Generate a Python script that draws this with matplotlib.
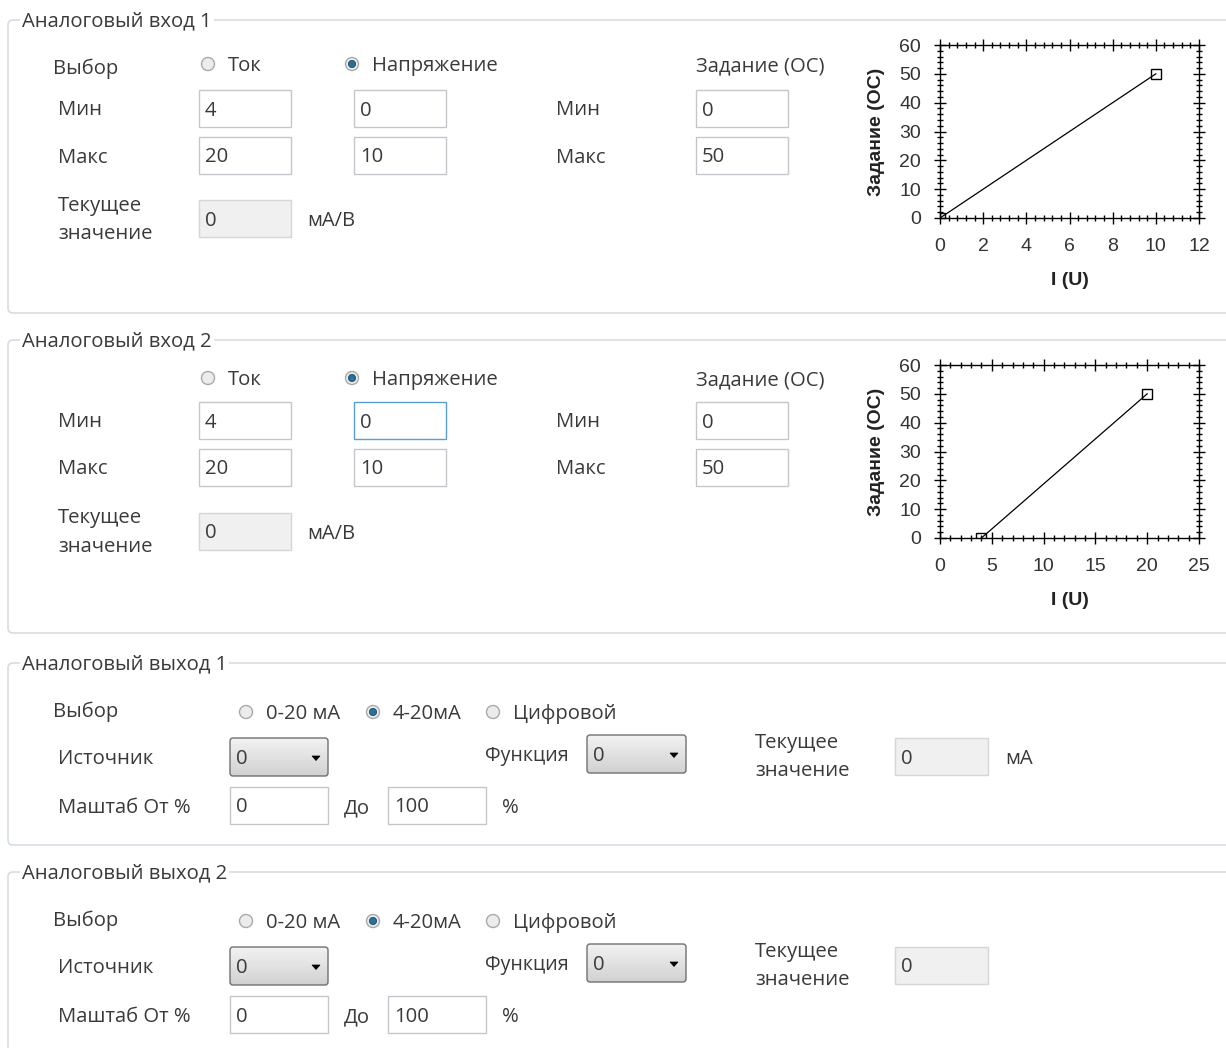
import numpy as np
import matplotlib.pyplot as plt
from matplotlib.patches import FancyBboxPatch, Rectangle, Circle, Polygon
from matplotlib.ticker import MultipleLocator

#  CONFIG
W, H = 1226, 1048
UI_FONT    = ['Open Sans', 'DejaVu Sans']
PLOT_FONT  = ['Liberation Sans', 'DejaVu Sans']
TXT        = '#3a3a3a'
BORDER     = '#d5dde3'
BOX_EDGE   = '#c3c7cc'
UI_SIZE    = 14.6

# DATA
in1_current  = [4, 20]        # Ток  (мин, макс)
in1_voltage  = [0, 10]        # Напряжение (мин, макс)
in1_setpoint = [0, 50]        # Задание (ОС)
in2_current  = [4, 20]
in2_voltage  = [0, 10]
in2_setpoint = [0, 50]
in1_x = [0, 10]
in1_y = [0, 50]
in2_x = [4, 20]
in2_y = [0, 50]
out_scale = [0, 100]          # Маштаб От / До

fig = plt.figure(figsize=(W / 100, H / 100), dpi=100)
bg = fig.add_axes([0, 0, 1, 1])
bg.set_xlim(0, W)
bg.set_ylim(H, 0)
bg.axis('off')


#  HELPERS
def label(x, y, s, size=UI_SIZE, **kw):
    # +2 px: matplotlib centres on the full glyph box, the UI on the x-height
    bg.text(x, y + 2, s, fontsize=size, color=TXT, family=UI_FONT,
            va='center', ha='left', **kw)

def group(y_top, y_bot, title):
    bg.add_patch(FancyBboxPatch((8, y_top), 1300, y_bot - y_top,
                                boxstyle='round,pad=0,rounding_size=5',
                                fc='none', ec=BORDER, lw=1.2))
    bg.text(22, y_top + 1, title, fontsize=UI_SIZE, color=TXT, family=UI_FONT,
            va='center', ha='left',
            bbox=dict(fc='white', ec='none', pad=1.5))

def textbox(x0, y0, x1, y1, s, fill='white', edge=BOX_EDGE):
    bg.add_patch(Rectangle((x0, y0), x1 - x0, y1 - y0, fc=fill, ec=edge, lw=1.0))
    label(x0 + 6, (y0 + y1) / 2, str(s))

def radio(x, y, s, selected=False):
    bg.add_patch(Circle((x, y), 6.5, fc='#ececec', ec='#a9a9a9', lw=1.0))
    if selected:
        bg.add_patch(Circle((x, y), 3.6, fc='#2b6f98', ec='#1c4d6e', lw=0.6))
    label(x + 20, y, s)

def combo(x0, y0, x1, y1, s):
    shade = np.linspace(0.95, 0.82, 50)
    grad = np.repeat(shade[:, None, None], 3, axis=2)
    bg.imshow(grad, extent=(x0, x1, y1, y0), aspect='auto', zorder=1)
    bg.add_patch(FancyBboxPatch((x0, y0), x1 - x0, y1 - y0,
                                boxstyle='round,pad=0,rounding_size=3',
                                fc='none', ec='#707070', lw=1.0, zorder=2))
    label(x0 + 6, (y0 + y1) / 2, str(s), zorder=3)
    cx, cy = x1 - 12, (y0 + y1) / 2 + 1
    bg.add_patch(Polygon([(cx - 4, cy - 2), (cx + 4, cy - 2), (cx, cy + 2.5)],
                         closed=True, fc='black', ec='black', lw=0.5, zorder=3))

def chart(top, bot, xs, ys, xmax, xmaj, xmin_step):
    ax = fig.add_axes([940 / W, 1 - bot / H, 259 / W, (bot - top) / H])
    ax.plot(xs, ys, color='black', lw=0.9, marker='s', ms=7.5,
            mfc='none', mec='black', mew=1.0)
    ax.set_xlim(0, xmax)
    ax.set_ylim(0, 60)
    ax.xaxis.set_major_locator(MultipleLocator(xmaj))
    ax.xaxis.set_minor_locator(MultipleLocator(xmin_step))
    ax.yaxis.set_major_locator(MultipleLocator(10))
    ax.yaxis.set_minor_locator(MultipleLocator(2))
    ax.tick_params(which='both', direction='inout', top=True, right=True,
                   labelsize=14, labelcolor='#333333')
    ax.tick_params(axis='x', which='major', pad=10)
    ax.tick_params(axis='y', which='major', pad=9)
    ax.tick_params(which='major', length=9, width=1.0)
    ax.tick_params(which='minor', length=5, width=1.0)
    for lab in ax.get_xticklabels() + ax.get_yticklabels():
        lab.set_family(PLOT_FONT)
    for sp in ax.spines.values():
        sp.set_linewidth(1.0)
    ax.set_xlabel('I (U)', fontsize=14, fontweight='bold', family=PLOT_FONT,
                  color='#222222', labelpad=12)
    ax.set_ylabel('Задание (ОС)', fontsize=14, fontweight='bold',
                  family=PLOT_FONT, color='#222222', labelpad=10)
    return ax


#  GROUP 1 - Аналоговый вход 1
group(20, 313, 'Аналоговый вход 1')
label(53, 67, 'Выбор')
radio(208, 64, 'Ток')
radio(352, 64, 'Напряжение', selected=True)
label(696, 64, 'Задание (ОС)')
label(58, 108, 'Мин')
label(58, 156, 'Макс')
textbox(199, 90, 291, 127, in1_current[0])
textbox(354, 90, 446, 127, in1_voltage[0])
label(556, 108, 'Мин')
textbox(696, 90, 788, 127, in1_setpoint[0])
textbox(199, 137, 291, 174, in1_current[1])
textbox(354, 137, 446, 174, in1_voltage[1])
label(556, 156, 'Макс')
textbox(696, 137, 788, 174, in1_setpoint[1])
label(58, 204, 'Текущее')
label(58, 232, 'значение')
textbox(199, 200, 291, 237, 0, fill='#f0f0f0', edge='#d6d6d6')
label(307, 219, 'мА/В')
chart(45, 218, in1_x, in1_y, 12, 2, 0.4)

#  GROUP 2 - Аналоговый вход 2
group(340, 633, 'Аналоговый вход 2')
radio(208, 378, 'Ток')
radio(352, 378, 'Напряжение', selected=True)
label(696, 378, 'Задание (ОС)')
label(58, 420, 'Мин')
label(58, 467, 'Макс')
textbox(199, 402, 291, 439, in2_current[0])
textbox(354, 402, 446, 439, in2_voltage[0], edge='#5a9fd4')
label(556, 420, 'Мин')
textbox(696, 402, 788, 439, in2_setpoint[0])
textbox(199, 449, 291, 486, in2_current[1])
textbox(354, 449, 446, 486, in2_voltage[1])
label(556, 467, 'Макс')
textbox(696, 449, 788, 486, in2_setpoint[1])
label(58, 516, 'Текущее')
label(58, 545, 'значение')
textbox(199, 513, 291, 550, 0, fill='#f0f0f0', edge='#d6d6d6')
label(307, 532, 'мА/В')
chart(365, 538, in2_x, in2_y, 25, 5, 1)

#  GROUPS 3, 4 - Аналоговый выход
for title, y0, y1, unit in [('Аналоговый выход 1', 663, 845, 'мА'),
                            ('Аналоговый выход 2', 872, 1200, None)]:
    d = y0 - 663
    group(y0, y1, title)
    label(53, 710 + d, 'Выбор')
    radio(246, 712 + d, '0-20 мА')
    radio(373, 712 + d, '4-20мА', selected=True)
    radio(493, 712 + d, 'Цифровой')
    label(58, 757 + d, 'Источник')
    combo(230, 738 + d, 328, 776 + d, 0)
    label(485, 754 + d, 'Функция', size=UI_SIZE - 0.5)
    combo(587, 735 + d, 686, 773 + d, 0)
    label(755, 741 + d, 'Текущее')
    label(755, 769 + d, 'значение')
    textbox(895, 738 + d, 988, 775 + d, 0, fill='#f0f0f0', edge='#d6d6d6')
    if unit:
        label(1005, 757 + d, unit)
    label(58, 806 + d, 'Маштаб От %')
    textbox(230, 787 + d, 328, 824 + d, out_scale[0])
    label(344, 806 + d, 'До')
    textbox(388, 787 + d, 486, 824 + d, out_scale[1])
    label(502, 806 + d, '%')

fig.savefig('out.png', dpi=100, facecolor='white')
